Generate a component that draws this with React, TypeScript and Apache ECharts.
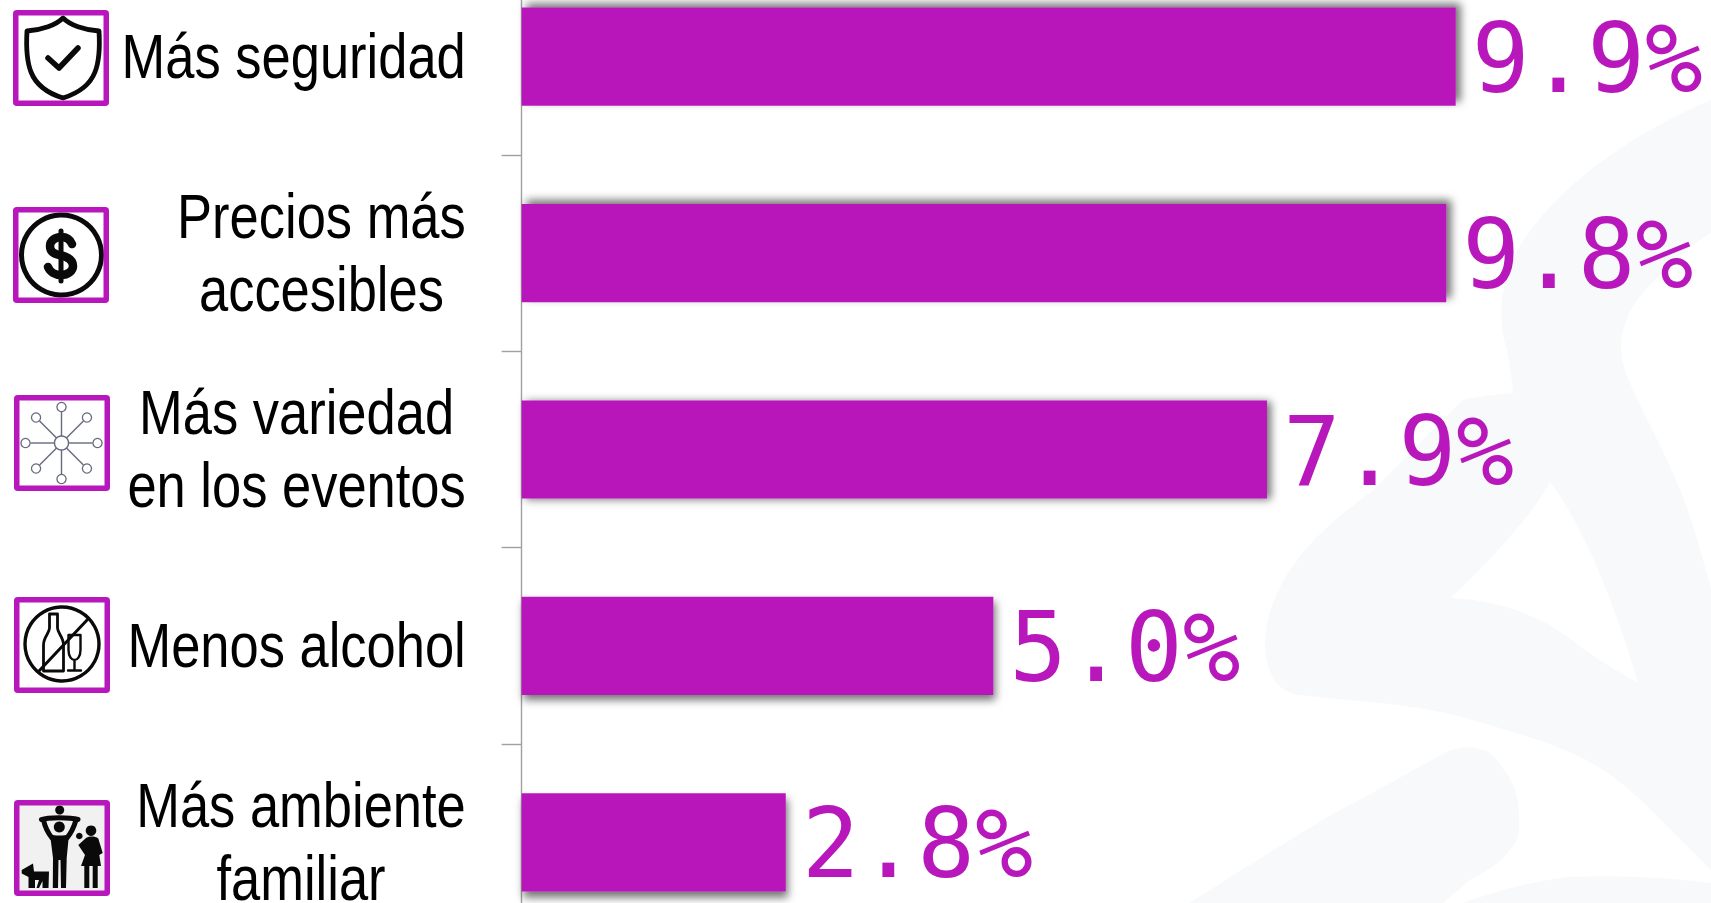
import React, { useEffect, useRef } from "react";
import * as echarts from "echarts";

const categories = [
  "Más seguridad",
  "Precios más\naccesibles",
  "Más variedad\nen los eventos",
  "Menos alcohol",
  "Más ambiente\nfamiliar",
];
const values = [9.9, 9.8, 7.9, 5.0, 2.8];

const PURPLE = "#B818BB";
const AXIS_GRAY = "#A0A0A0";
const WATERMARK = "#F8F9FB";

const shadowOffsets = [
  [5, -4],
  [5, -4],
  [4, 1],
  [2, 5],
  [2, 6],
];
const frames = [
  [13, 10],
  [13, 207],
  [14, 395],
  [14, 597],
  [14, 800],
];

const shapes: Record<string, string> = {
  wmMain:
    "M1711 100C1640 130 1560 180 1517 250C1500 285 1497 320 1507 350C1511 375 1513 385 1513 393C1490 395 1470 398 1463 400C1430 430 1400 465 1373 490C1340 515 1310 540 1295 563C1275 590 1258 630 1268 665C1273 685 1285 693 1300 695C1340 700 1380 702 1412 707C1450 712 1490 725 1529 737C1560 747 1590 760 1607 773C1635 790 1670 830 1711 870L1711 587C1700 550 1690 510 1677 483C1660 440 1640 410 1625 370C1615 340 1625 310 1650 285C1670 265 1690 245 1711 233Z",
  wmHole:
    "M1550 482C1530 520 1480 570 1451 598C1490 600 1530 610 1568 637C1590 655 1615 670 1638 683C1620 620 1590 540 1556 490Z",
  wmLow:
    "M1190 903C1240 870 1290 840 1334 813C1380 790 1420 765 1451 750C1470 745 1482 748 1490 753C1505 768 1515 785 1517 797C1520 815 1520 830 1517 840C1505 860 1490 870 1470 880L1443 903Z",
  wmCorner: "M1462 903C1500 890 1530 882 1568 877C1620 875 1670 878 1711 883L1711 903Z",
  shield:
    "M63 18C56 25 42 30 27 31C26 48 27 62 31 72C36 85 47 93 63 98C79 93 90 85 95 72C99 62 100 48 99 31C84 30 70 25 63 18Z",
  check: "M48 58L59 68L78 48",
  dollarS:
    "M72 244C70 239 66 237 61 237C55 237 50 241 50 246C50 252 54 254 61 255.5C68 257 73 260 73 266C73 271 68 275 61 275C55 275 50 272 48 267",
  dollarBar: "M61 231L61 281",
  bottle:
    "M49.5 614L57.5 614L57.5 628C57.5 633 63.5 637 63.5 645L63.5 671L43.5 671L43.5 645C43.5 637 49.5 633 49.5 628Z",
  glass: "M68.5 635L80.5 635L80.5 650C80.5 657 77 660 74.5 660C72 660 68.5 657 68.5 650ZM74.5 660L74.5 670M68 670.5L81 670.5",
  slash: "M39 671L88 619",
  armsAdult: "M43.5 820C45 827 48 833 52 838M76 820C74 827 71 833 67 838",
  childLegs: "M41.5 819.5C48 817 70 817 78 819.5",
  adultBody:
    "M50 834C54 836 65 836 69 834L66.7 858L66 888L61 888L60.5 860L58.5 860L58 888L52.8 888L53 858Z",
  womanBody:
    "M78.3 845L86 838C90 836 95 836 98.3 838.5L102.7 853L99.3 855L101 866L97.7 866L97.7 888L92.7 888L92.7 866L89.3 866L89.3 888L84.3 888L84.3 866L81 866L85 855Z",
  dog: "M21.7 870L33 863.5L34 871.5L49 871.5L48.5 888L42.5 888L42.5 881L39 888L36.5 888L39 880L35 880L35 888L28.5 888L28.5 877L21.7 873.5Z",
};
Object.entries(shapes).forEach(([name, d]) => {
  echarts.graphic.registerShape(name, (echarts.graphic as any).extendPath(d, {}));
});

const fillShape = (type: string, fill: string, z = 1) => ({ type, z, style: { fill, stroke: "none" } });
const strokeShape = (type: string, stroke: string, lineWidth: number, z = 1) => ({
  type,
  z,
  style: { fill: "none", stroke, lineWidth, lineCap: "round", lineJoin: "round" },
});
const ringShape = (cx: number, cy: number, r: number, stroke: string, lineWidth: number, fill = "none") => ({
  type: "circle",
  z: 1,
  shape: { cx, cy, r },
  style: { fill, stroke, lineWidth },
});

const HUB = "#666A7E";
const hubX = 61.5;
const hubY = 443;
const spokes = [0, 45, 90, 135, 180, 225, 270, 315].flatMap((deg) => {
  const a = (deg * Math.PI) / 180;
  const ca = Math.cos(a);
  const sa = Math.sin(a);
  return [
    {
      type: "line",
      z: 1,
      shape: { x1: hubX + 7 * ca, y1: hubY + 7 * sa, x2: hubX + 31 * ca, y2: hubY + 31 * sa },
      style: { stroke: HUB, lineWidth: 1.4 },
    },
    ringShape(hubX + 36 * ca, hubY + 36 * sa, 4.6, HUB, 1.3, "#fff"),
  ];
});

const graphics: any[] = [
  fillShape("wmMain", WATERMARK, -2),
  fillShape("wmHole", "#FFFFFF", -1),
  fillShape("wmLow", WATERMARK, -2),
  fillShape("wmCorner", WATERMARK, -2),
  {
    type: "rect",
    z: 0,
    shape: { x: 16, y: 802, width: 92, height: 92 },
    style: { fill: "#F1F1F1" },
  },
  ...frames.map(([x, y]) => ({
    type: "rect",
    z: 2,
    shape: { x: x + 2.75, y: y + 2.75, width: 90.5, height: 90.5, r: 1 },
    style: { fill: "none", stroke: PURPLE, lineWidth: 5.5 },
  })),
  strokeShape("shield", "#0A0A0A", 4.8),
  strokeShape("check", "#0A0A0A", 5.5),
  ringShape(61.5, 255, 40, "#0A0A0A", 5),
  strokeShape("dollarS", "#0A0A0A", 8.5),
  strokeShape("dollarBar", "#0A0A0A", 5),
  ...spokes,
  ringShape(hubX, hubY, 7, HUB, 1.4, "#fff"),
  ringShape(62, 644, 37, "#0A0A0A", 3.4),
  strokeShape("bottle", "#0A0A0A", 2.8),
  strokeShape("glass", "#0A0A0A", 2.4),
  strokeShape("slash", "#0A0A0A", 3),
  ringShape(59.7, 810, 4.5, "#0A0A0A", 0, "#0A0A0A"),
  ringShape(59.3, 827, 5.5, "#0A0A0A", 0, "#0A0A0A"),
  strokeShape("armsAdult", "#0A0A0A", 5),
  strokeShape("childLegs", "#0A0A0A", 5),
  fillShape("adultBody", "#0A0A0A"),
  ringShape(91, 830.7, 5.3, "#0A0A0A", 0, "#0A0A0A"),
  ringShape(79.3, 836, 3.3, "#0A0A0A", 0, "#0A0A0A"),
  fillShape("womanBody", "#0A0A0A"),
  fillShape("dog", "#0A0A0A"),
];

const LABEL_FONT = '"Liberation Sans", Arial, sans-serif';

export default function App() {
  const ref = useRef<HTMLDivElement>(null);
  useEffect(() => {
    document.body.style.margin = "0";
    document.body.style.background = "#fff";
    const chart = echarts.init(ref.current!, undefined, { renderer: "svg" });
    chart.setOption({
      animation: false,
      backgroundColor: "#FFFFFF",
      graphic: { elements: graphics },
      grid: {
        left: 521.6,
        top: -41.5,
        width: 1132.2,
        height: 982,
        containLabel: false,
        outerBoundsMode: "none",
      },
      xAxis: { type: "value", min: 0, max: 12, show: false },
      yAxis: {
        type: "category",
        inverse: true,
        data: categories,
        axisLine: { show: true, lineStyle: { color: AXIS_GRAY, width: 1.4 } },
        axisTick: { show: true, length: 20, lineStyle: { color: AXIS_GRAY, width: 1.4 } },
        axisLabel: { show: false },
      },
      series: [
        {
          type: "bar",
          barWidth: "50%",
          data: values.map((value, i) => ({
            value,
            itemStyle: {
              color: PURPLE,
              shadowColor: "rgba(0,0,0,0.55)",
              shadowBlur: 8,
              shadowOffsetX: shadowOffsets[i][0],
              shadowOffsetY: shadowOffsets[i][1],
            },
          })),
          label: {
            show: true,
            position: "right",
            distance: 15,
            offset: [1, 2],
            color: PURPLE,
            fontFamily: '"DejaVu Sans Mono", monospace',
            fontSize: 96,
            formatter: (p: any) => `${p.value.toFixed(1)}%`,
          },
        },
        {
          type: "custom",
          silent: true,
          clip: false,
          encode: { x: 0, y: 1 },
          data: categories.map((_, i) => [0, i]),
          renderItem: (_params: any, api: any) => {
            const i = api.value(1);
            const [x, y] = api.coord([0, i]);
            return {
              type: "text",
              x: x - 55.8,
              y: y - 0.5,
              scaleX: 0.833,
              style: {
                text: categories[i]
                  .split("\n")
                  .map((line) => `{c|${line}}`)
                  .join("\n"),
                align: "right",
                verticalAlign: "middle",
                fill: "#000",
                font: `63px ${LABEL_FONT}`,
                rich: {
                  c: {
                    align: "center",
                    fill: "#000",
                    fontFamily: LABEL_FONT,
                    fontSize: 63,
                    lineHeight: 73,
                  },
                },
              },
            };
          },
        },
      ],
    });
    return () => chart.dispose();
  }, []);
  return <div ref={ref} style={{ position: "absolute", left: 0, top: 0, width: 1711, height: 903 }} />;
}
